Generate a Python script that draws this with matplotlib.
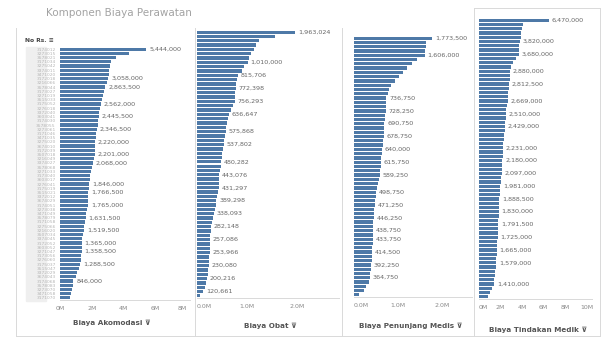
import matplotlib
matplotlib.use("Agg")
import matplotlib.pyplot as plt
from matplotlib.lines import Line2D
from matplotlib.patches import Rectangle

W, H = 606, 341
BAR = "#4e79a7"
GRID = "#d9d9d9"

# --- data -------------------------------------------------------------
rs_codes = [
    "3174012", "3273015", "3578021", "3171034", "3275042", "3374011", "3471020", "3172018",
    "3216066", "3578044", "3173027", "3271019", "3515033", "3175052", "3276018", "3372040",
    "3603041", "3174030", "3578055", "3273061", "3171046", "3471035", "3275020", "3674010",
    "3172039", "3507018", "3216049", "3374027", "3578068", "3271033", "3173040", "3603017",
    "3276041", "3175019", "3515021", "3372012", "3674029", "3174051", "3273038", "3471049",
    "3578079", "3171058", "3275066", "3216020", "3507034", "3374045", "3172052", "3603052",
    "3271047", "3173056", "3276060", "3175037", "3515047", "3372029", "3674043", "3174068",
    "3578083", "3273070", "3471058", "3171070",
]

akomodasi = [
    5444000, 4380000, 3520000, 3240000, 3180000, 3120000, 3090000, 3058000, 2950000, 2863500,
    2760000, 2700000, 2630000, 2562000, 2530000, 2480000, 2445500, 2410000, 2380000, 2346500,
    2300000, 2260000, 2220000, 2215000, 2208000, 2201000, 2150000, 2068000, 2010000, 1960000,
    1910000, 1870000, 1846000, 1800000, 1766500, 1766000, 1765500, 1765000, 1700000, 1660000,
    1631500, 1580000, 1540000, 1519500, 1450000, 1390000, 1365000, 1362000, 1358500, 1320000,
    1300000, 1288500, 1200000, 1100000, 980000, 846000, 800000, 760000, 700000, 650000,
]
akomodasi_labeled = [0, 7, 9, 13, 16, 19, 22, 25, 27, 32, 34, 37, 40, 43, 46, 48, 51, 55]

obat = [
    1963024, 1560000, 1230000, 1180000, 1130000, 1080000, 1040000, 1010000, 940000, 900000,
    815706, 800000, 785000, 772398, 768000, 762000, 756293, 720000, 680000, 636647,
    620000, 600000, 585000, 575868, 560000, 548000, 537802, 520000, 505000, 492000,
    480282, 470000, 455000, 443076, 438000, 434000, 431297, 415000, 400000, 389298,
    370000, 352000, 338093, 315000, 298000, 282148, 272000, 263000, 257086, 256000,
    255000, 253966, 245000, 236000, 230080, 220000, 210000, 200216, 180000, 150000,
    120661, 60000,
]
obat_labeled = [0, 7, 10, 13, 16, 19, 23, 26, 30, 33, 36, 39, 42, 45, 48, 51, 54, 57, 60]

penunjang = [
    1773500, 1640000, 1625000, 1615000, 1606000, 1420000, 1310000, 1200000, 1110000, 1020000,
    920000, 850000, 800000, 765000, 736750, 733000, 730000, 728250, 712000, 700000,
    690750, 686000, 682000, 678750, 665000, 652000, 640000, 632000, 623000, 615750,
    606000, 597000, 589250, 560000, 535000, 515000, 498750, 490000, 480000, 471250,
    462000, 454000, 446250, 442000, 440000, 438750, 435000, 433750, 425000, 420000,
    414500, 405000, 398000, 392250, 380000, 372000, 364750, 330000, 280000, 220000,
    120000,
]
penunjang_labeled = [0, 4, 14, 17, 20, 23, 26, 29, 32, 36, 39, 42, 45, 47, 50, 53, 56]

tindakan = [
    6470000, 4120000, 4010000, 3900000, 3860000, 3820000, 3760000, 3720000, 3680000, 3400000,
    3150000, 2980000, 2880000, 2860000, 2840000, 2812500, 2760000, 2720000, 2690000, 2669000,
    2600000, 2540000, 2510000, 2480000, 2450000, 2429000, 2390000, 2350000, 2310000, 2270000,
    2231000, 2210000, 2195000, 2180000, 2150000, 2120000, 2097000, 2060000, 2020000, 1981000,
    1950000, 1920000, 1888500, 1870000, 1850000, 1830000, 1815000, 1805000, 1791500, 1770000,
    1745000, 1725000, 1700000, 1680000, 1665000, 1640000, 1610000, 1579000, 1540000, 1500000,
    1470000, 1440000, 1410000, 1200000, 1000000, 850000,
]
tindakan_labeled = [0, 5, 8, 12, 15, 19, 22, 25, 30, 33, 36, 39, 42, 45, 48, 51, 54, 57, 62]

panels = [
    # values, labeled rows, axis title, x ticks (M), tick labels, xmax (M), pixel box
    (akomodasi, akomodasi_labeled, "Biaya Akomodasi", [0, 2, 4, 6, 8],
     ["0M", "2M", "4M", "6M", "8M"], 8.2, (60, 47, 190, 300), (112, 323)),
    (obat, obat_labeled, "Biaya Obat", [0, 1, 2],
     ["0.0M", "1.0M", "2.0M"], 2.84, (197, 30, 339, 298), (270, 326)),
    (penunjang, penunjang_labeled, "Biaya Penunjang Medis", [0, 1, 2],
     ["0.0M", "1.0M", "2.0M"], 2.68, (354, 36, 472, 297), (411, 326)),
    (tindakan, tindakan_labeled, "Biaya Tindakan Medik", [0, 2, 4, 6, 8, 10],
     ["0M", "2M", "4M", "6M", "8M", "10M"], 10.5, (479, 18, 592, 299), (538, 330)),
]


def px_axes(fig, box):
    x0, y0, x1, y1 = box
    return fig.add_axes([x0 / W, 1 - y1 / H, (x1 - x0) / W, (y1 - y0) / H])


def px_line(fig, xs, ys):
    fig.add_artist(Line2D([x / W for x in xs], [1 - y / H for y in ys],
                          color=GRID, lw=0.7, transform=fig.transFigure))


fig = plt.figure(figsize=(W / 100, H / 100), dpi=100)
fig.patch.set_facecolor("white")

fig.text(46 / W, 1 - 13 / H, "Komponen Biaya Perawatan", fontsize=7.5,
         color="#a3a3a3", va="center", ha="left")

for k, (vals, labeled, title, ticks, tlabels, xmax, box, tpos) in enumerate(panels):
    ax = px_axes(fig, box)
    n = len(vals)
    vm = [v / 1e6 for v in vals]
    ax.barh(range(n), vm, height=0.76, color=BAR, edgecolor="none")
    ax.set_ylim(n - 0.5, -0.5)
    ax.set_xlim(0, xmax)
    for i in labeled:
        ax.annotate(f"{vals[i]:,}", (vm[i], i), xytext=(2, 0), textcoords="offset points",
                    fontsize=4.6, color="#666666", va="center", ha="left")
    for s in ["top", "right", "left"]:
        ax.spines[s].set_visible(False)
    ax.spines["bottom"].set_color(GRID)
    ax.spines["bottom"].set_linewidth(0.7)
    ax.set_xticks(ticks)
    ax.set_xticklabels(tlabels)
    ax.tick_params(axis="x", length=0, pad=4, labelsize=4.5, labelcolor="#8a8a8a")
    xt = ax.get_xticklabels()
    if k == 0:
        xt[-1].set_ha("right")
        ax.set_yticks(range(n))
        ax.set_yticklabels(rs_codes)
        ax.tick_params(axis="y", length=0, pad=3, labelsize=3.2, labelcolor="#b5b5b5")
    else:
        xt[0].set_ha("left")
        ax.set_yticks([])
    fig.text(tpos[0] / W, 1 - tpos[1] / H, title + " \u22bd", fontsize=5.2,
             fontweight="bold", color="#555555", ha="center", va="center")

# shaded row-header column and its caption
fig.add_artist(Rectangle((26 / W, 1 - 301 / H), 20 / W, 254 / H, color="#efefef",
                         transform=fig.transFigure, zorder=-1))
fig.text(25 / W, 1 - 40 / H, "No Rs. \u2261", fontsize=4.3, fontweight="bold",
         color="#444444", ha="left", va="center")

# dashboard frame and panel separators
px_line(fig, [16, 16], [28, 336])
px_line(fig, [16, 600], [336, 336])
px_line(fig, [195, 195], [28, 336])
px_line(fig, [342, 342], [28, 336])
px_line(fig, [474, 474], [8, 336])
px_line(fig, [600, 600], [8, 336])
px_line(fig, [474, 600], [8, 8])

fig.savefig("out.png", dpi=100)
